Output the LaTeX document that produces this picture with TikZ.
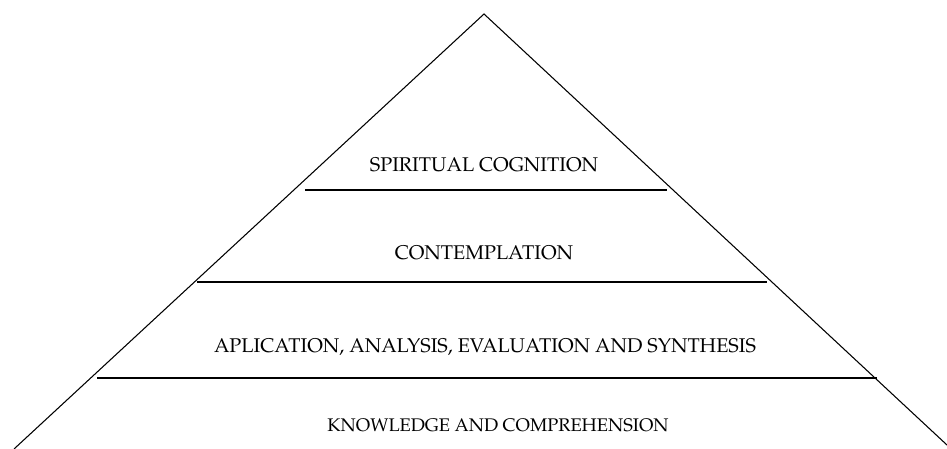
\documentclass[tikz,border=0pt]{standalone}
\usepackage[T1]{fontenc}
\usepackage{mathpazo}
\usepackage{tikz}

\tikzset{
	level/.style={font=\fontsize{14.9}{17}\selectfont, inner sep=0pt},
	base level/.style={font=\fontsize{13.7}{16}\selectfont, inner sep=0pt},
	tier/.style={line width=0.9pt}
}

\begin{document}
\begin{tikzpicture}[x=0.75pt, y=-0.75pt]
		\useasboundingbox (0,0) rectangle (947,449);
		\coordinate (T) at (484,14);
		\coordinate (L) at (14,449);
		\coordinate (R) at (947,445);
		% the two sides
		\draw[line width=0.8pt] (L) -- (T) -- (R);
		% dividing lines between the levels
		\draw[tier] (305,190) -- (667,190);
		\draw[tier] (197,282) -- (767,282);
		\draw[tier] (97,378) -- (877,378);
		%\draw (T) -- (484,449);
		\node[level] (spirit) at (484,165) {SPIRITUAL COGNITION};
		\node[level] (contemp) at (484,253) {CONTEMPLATION};
		\node[level] (apply) at (485,347) {APLICATION, ANALYSIS, EVALUATION AND SYNTHESIS};
		\node[base level] (know) at (498,425) {KNOWLEDGE AND COMPREHENSION};
	\end{tikzpicture}
\end{document}
